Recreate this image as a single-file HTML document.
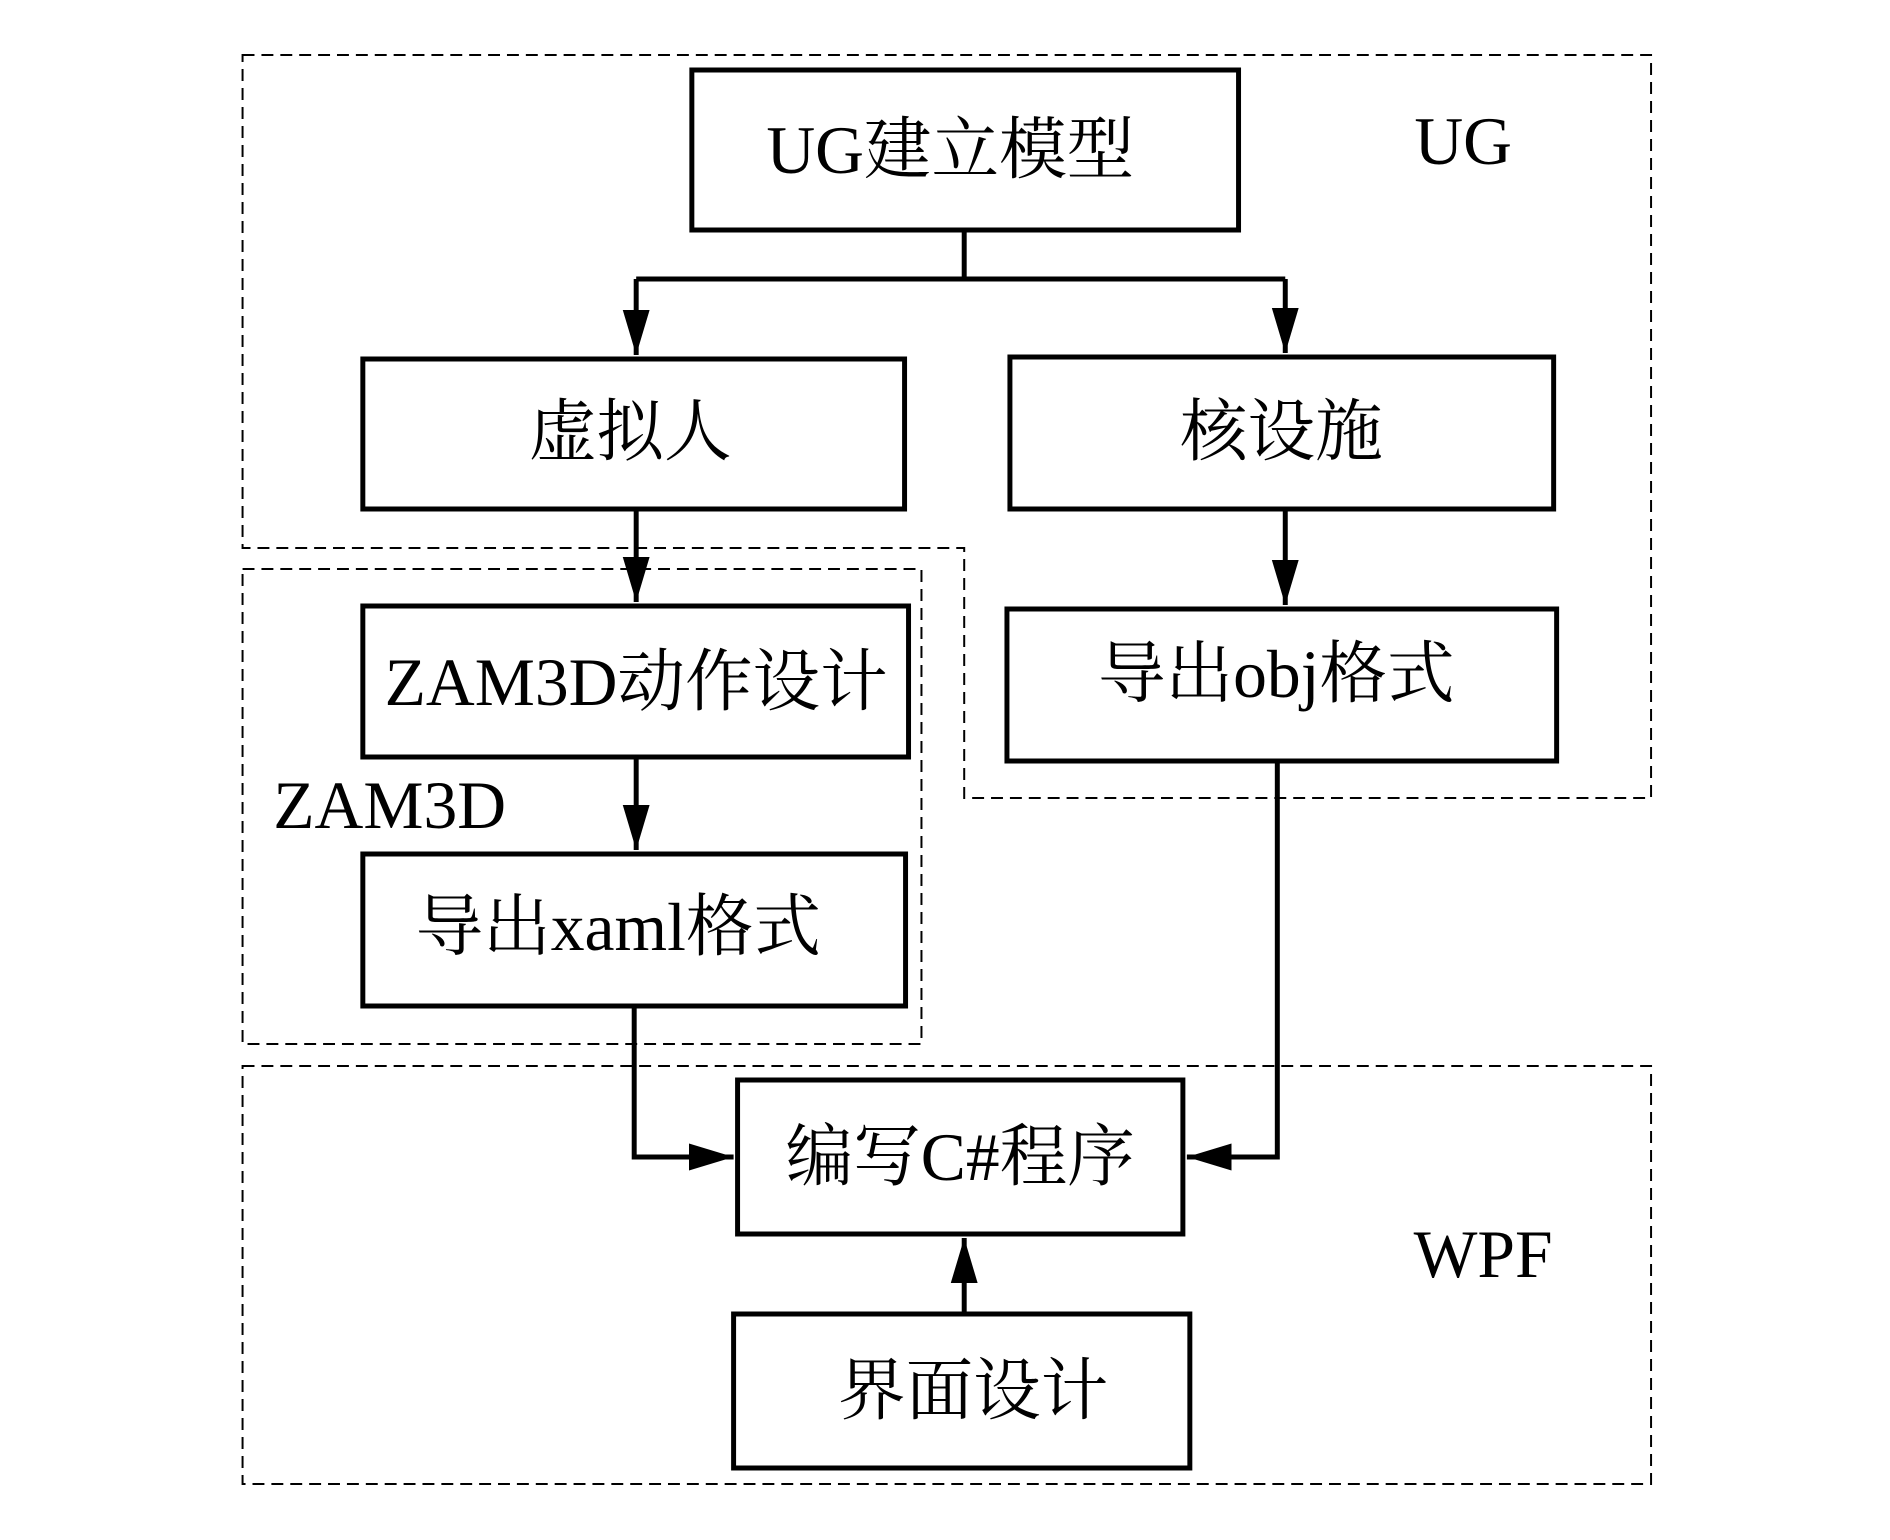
<!DOCTYPE html>
<html><head><meta charset="utf-8"><style>
html,body{margin:0;padding:0;background:#fff;}
svg text{font-family:"Liberation Serif","Noto Serif CJK SC",serif;fill:#000;}
</style></head><body>
<svg width="1890" height="1535" viewBox="0 0 1890 1535" xmlns="http://www.w3.org/2000/svg">
<defs>
<marker id="a" viewBox="0 0 10 10" refX="10" refY="5" markerWidth="9" markerHeight="9" markerUnits="strokeWidth" orient="auto"><path d="M0,2 L10,5 L0,8 z" fill="#000"/></marker>
</defs>
<g transform="translate(4,0) scale(0.994,1)">
<g fill="none" stroke="#000" stroke-width="2" stroke-dasharray="12,7">
<path d="M240,55 H1657 V798 H966 V548 H240 Z"/>
<rect x="240" y="569" width="683" height="475"/>
<rect x="240" y="1066" width="1417" height="418"/>
</g>
<g fill="#fff" stroke="#000" stroke-width="5">
<rect x="692" y="70" width="550" height="160"/>
<rect x="361" y="359" width="545" height="150"/>
<rect x="1012" y="357" width="547" height="152"/>
<rect x="361" y="606" width="549" height="151"/>
<rect x="1009" y="609" width="553" height="152"/>
<rect x="361" y="854" width="546" height="152"/>
<rect x="738" y="1080" width="448" height="154"/>
<rect x="734" y="1314" width="459" height="154"/>
</g>
<g fill="none" stroke="#000" stroke-width="5">
<path d="M966,230 V279 M636,279 H1289"/>
<path d="M636,279 V355" marker-end="url(#a)"/>
<path d="M1289,279 V353" marker-end="url(#a)"/>
<path d="M636,509 V602" marker-end="url(#a)"/>
<path d="M1289,509 V605" marker-end="url(#a)"/>
<path d="M636,757 V850" marker-end="url(#a)"/>
<path d="M634,1006 V1157 H734" marker-end="url(#a)"/>
<path d="M1281,761 V1157 H1190" marker-end="url(#a)"/>
<path d="M966,1314 V1238" marker-end="url(#a)"/>
</g>
<g font-size="68" text-anchor="middle">
<text x="952" y="173">UG建立模型</text>
<text x="630" y="455">虚拟人</text>
<text x="1285" y="455">核设施</text>
<text x="636" y="705">ZAM3D动作设计</text>
<text x="1280" y="697">导出obj格式</text>
<text x="618" y="950">导出xaml格式</text>
<text x="962" y="1180">编写C#程序</text>
<text x="975" y="1414">界面设计</text>
<text x="1468" y="164">UG</text>
<text x="388" y="828">ZAM3D</text>
<text x="1488" y="1277">WPF</text>
</g>
</g>
</svg>
</body></html>
